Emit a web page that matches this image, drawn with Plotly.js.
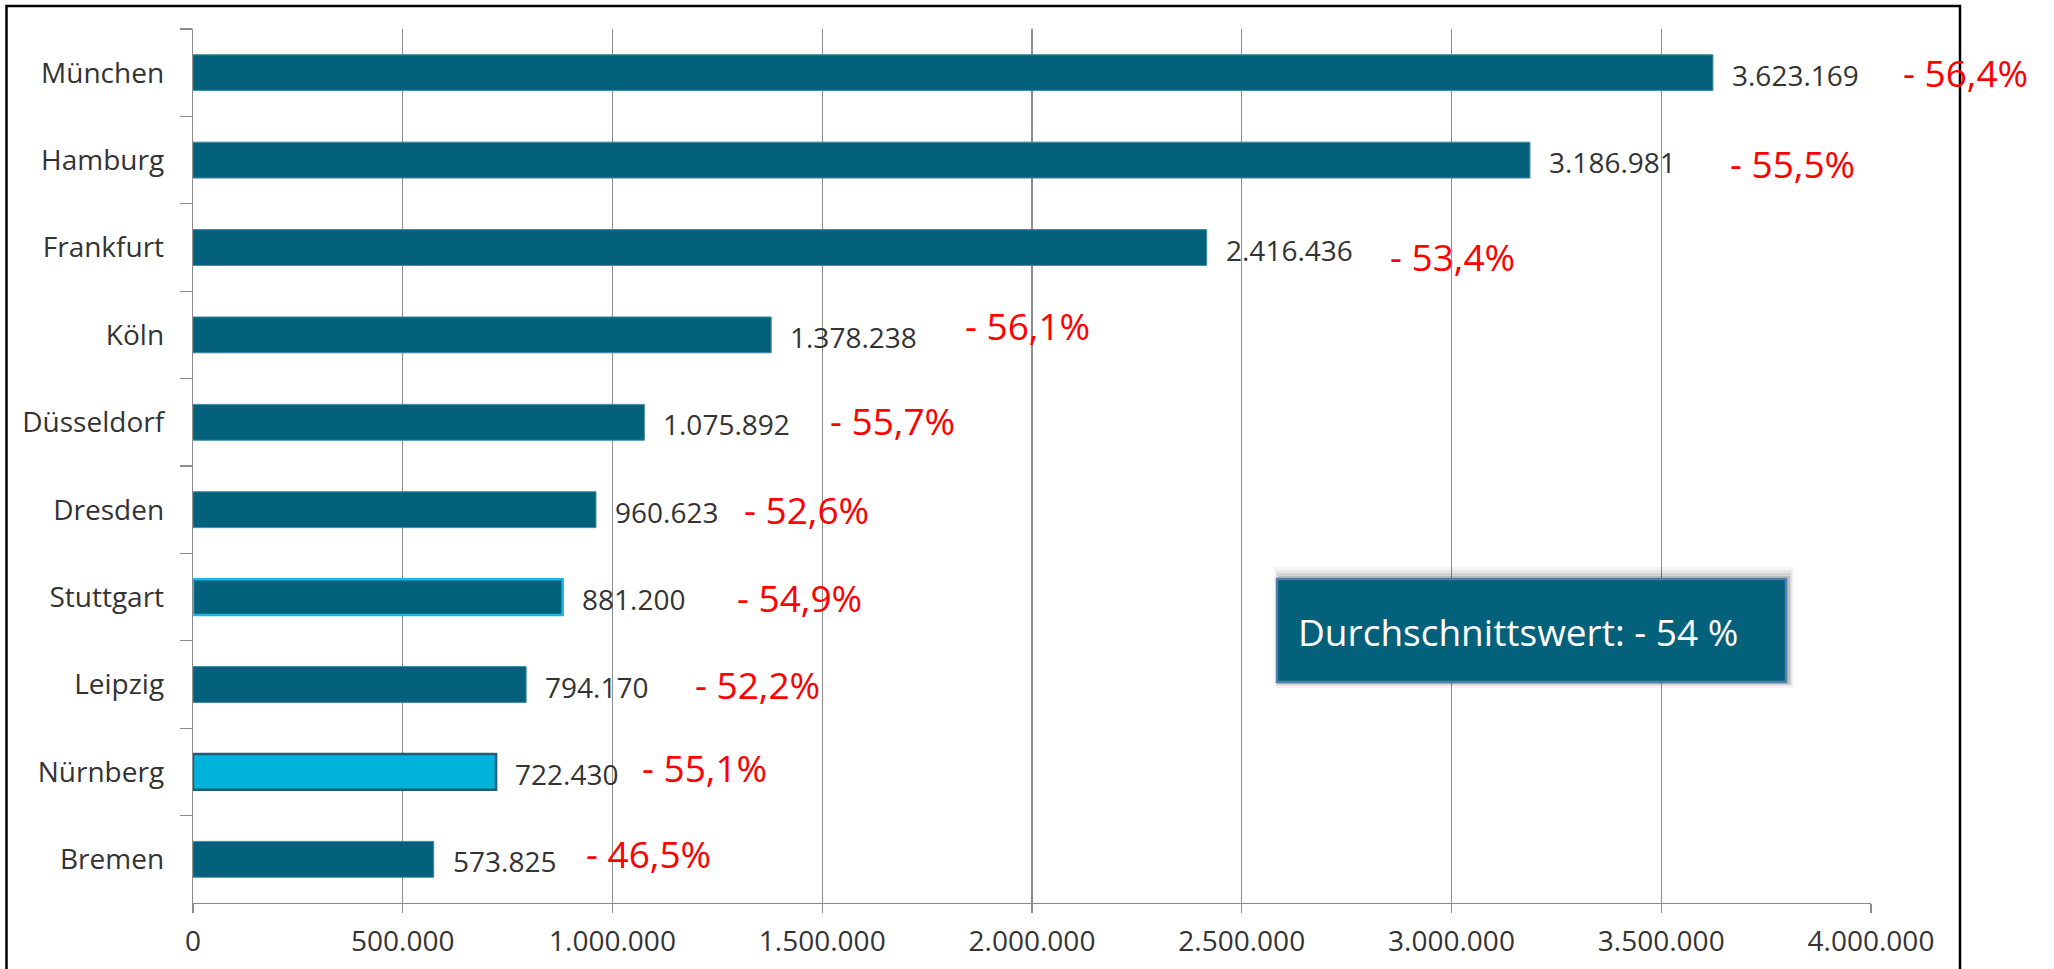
<!DOCTYPE html>
<html>
<head>
<meta charset="utf-8">
<script src="https://cdn.plot.ly/plotly-3.0.1.min.js"></script>
<style>
  html, body { margin: 0; padding: 0; background: #ffffff; }
  #chart { width: 2054px; height: 969px; }
</style>
</head>
<body>
<div id="chart"></div>
<script>
// ---- data ----
const cities = ['München', 'Hamburg', 'Frankfurt', 'Köln', 'Düsseldorf', 'Dresden', 'Stuttgart', 'Leipzig', 'Nürnberg', 'Bremen'];
const values = [3623169, 3186981, 2416436, 1378238, 1075892, 960623, 881200, 794170, 722430, 573825];
const changes = [-56.4, -55.5, -53.4, -56.1, -55.7, -52.6, -54.9, -52.2, -55.1, -46.5];
const averageChange = -54;
const xTickValues = [0, 500000, 1000000, 1500000, 2000000, 2500000, 3000000, 3500000, 4000000];

// ---- label placement (pixels, relative to bar end / bar centre) ----
const pctXShift = [190, 200, 183, 194, 186, 148, 174, 169, 146, 152];
const pctYShift = [0, -3, -9, 9.5, 2, 0, 0, 0, 4, 6];

// ---- styling ----
const TEAL = '#04617b';
const CYAN = '#00b3db';
const GRID = '#8c8c8c';
const TEXT = '#333333';
const FONT = 'Open Sans, Noto Sans, sans-serif';

const W = 2054, H = 969;
const M = { l: 193, r: 183, t: 29, b: 66 };
const PW = W - M.l - M.r, PH = H - M.t - M.b;
const px = x => (x - M.l) / PW;
const py = y => (H - M.b - y) / PH;

function fmtThousands(v) {
  return String(v).replace(/\B(?=(\d{3})+(?!\d))/g, '.');
}
function fmtPct(c) {
  return (c < 0 ? '- ' : '+ ') + Math.abs(c).toFixed(1).replace('.', ',') + '%';
}

const fillColors = cities.map(c => c === 'Nürnberg' ? CYAN : TEAL);
const lineColors = cities.map(c => c === 'Stuttgart' ? '#19b6e6' : (c === 'Nürnberg' ? '#1d5f78' : '#3f8aa3'));
const lineWidths = cities.map(c => (c === 'Stuttgart' || c === 'Nürnberg') ? 2.5 : 1);

const trace = {
  type: 'bar',
  orientation: 'h',
  x: values,
  y: cities,
  marker: { color: fillColors, line: { color: lineColors, width: lineWidths } },
  hoverinfo: 'none'
};

const annotations = [];
cities.forEach((c, i) => {
  annotations.push({
    x: values[i], y: c, xref: 'x', yref: 'y',
    text: fmtThousands(values[i]),
    showarrow: false, xanchor: 'left', yanchor: 'middle',
    xshift: 17, yshift: -2,
    font: { family: FONT, size: 28, color: TEXT }
  });
  annotations.push({
    x: values[i], y: c, xref: 'x', yref: 'y',
    text: fmtPct(changes[i]),
    showarrow: false, xanchor: 'left', yanchor: 'middle',
    xshift: pctXShift[i] - 2, yshift: pctYShift[i],
    font: { family: FONT, size: 37, color: '#ff0000' }
  });
});

// average box text
annotations.push({
  x: px(1296), y: py(631), xref: 'paper', yref: 'paper',
  text: 'Durchschnittswert: ' + fmtPct(averageChange).replace(',0%', ' %'),
  showarrow: false, xanchor: 'left', yanchor: 'middle',
  font: { family: FONT, size: 37, color: '#ffffff' }
});

const box = { x0: 1277, x1: 1786, y0: 579, y1: 682 };
const shapes = [];
// soft shadow
[[12, 6, 0.04], [9, 4, 0.06], [6, 3, 0.08], [3, 2, 0.1]].forEach(([top, side, op]) => {
  shapes.push({
    type: 'rect', xref: 'paper', yref: 'paper',
    x0: px(box.x0 - side + 3), x1: px(box.x1 + side + 2),
    y0: py(box.y1 + side), y1: py(box.y0 - top),
    fillcolor: 'rgba(0,0,0,' + op + ')', line: { width: 0 }, layer: 'above'
  });
});
shapes.push({
  type: 'rect', xref: 'paper', yref: 'paper',
  x0: px(box.x0), x1: px(box.x1), y0: py(box.y1), y1: py(box.y0),
  fillcolor: TEAL, line: { color: '#4f7fae', width: 2.5 }, layer: 'above'
});
// outer frame
shapes.push({
  type: 'rect', xref: 'paper', yref: 'paper',
  x0: px(6.5), x1: px(1960), y0: py(990), y1: py(6),
  fillcolor: 'rgba(0,0,0,0)', line: { color: '#000000', width: 2.5 }, layer: 'above'
});

const layout = {
  width: W, height: H,
  margin: { l: M.l, r: M.r, t: M.t, b: M.b, pad: 0 },
  paper_bgcolor: '#ffffff', plot_bgcolor: '#ffffff',
  showlegend: false,
  separators: ',.',
  bargap: 0.59,
  xaxis: {
    range: [0, 4000000],
    tickvals: xTickValues,
    tickformat: ',d',
    showgrid: true, gridcolor: GRID, gridwidth: 1.3,
    showline: true, linecolor: GRID, linewidth: 1.3,
    ticks: 'outside', ticklen: 9, tickcolor: GRID, tickwidth: 1.3,
    ticklabelstandoff: 4,
    tickfont: { family: FONT, size: 28, color: TEXT },
    zeroline: false, fixedrange: true
  },
  yaxis: {
    type: 'category',
    categoryorder: 'array', categoryarray: cities,
    autorange: 'reversed',
    showgrid: false,
    showline: true, linecolor: GRID, linewidth: 1.3,
    ticks: 'outside', ticklen: 12, tickcolor: GRID, tickwidth: 1.3,
    tickson: 'boundaries',
    ticklabelstandoff: 22,
    tickfont: { family: FONT, size: 28, color: TEXT },
    zeroline: false, fixedrange: true
  },
  annotations: annotations,
  shapes: shapes
};

Plotly.newPlot('chart', [trace], layout, { displayModeBar: false, staticPlot: true });
</script>
</body>
</html>
